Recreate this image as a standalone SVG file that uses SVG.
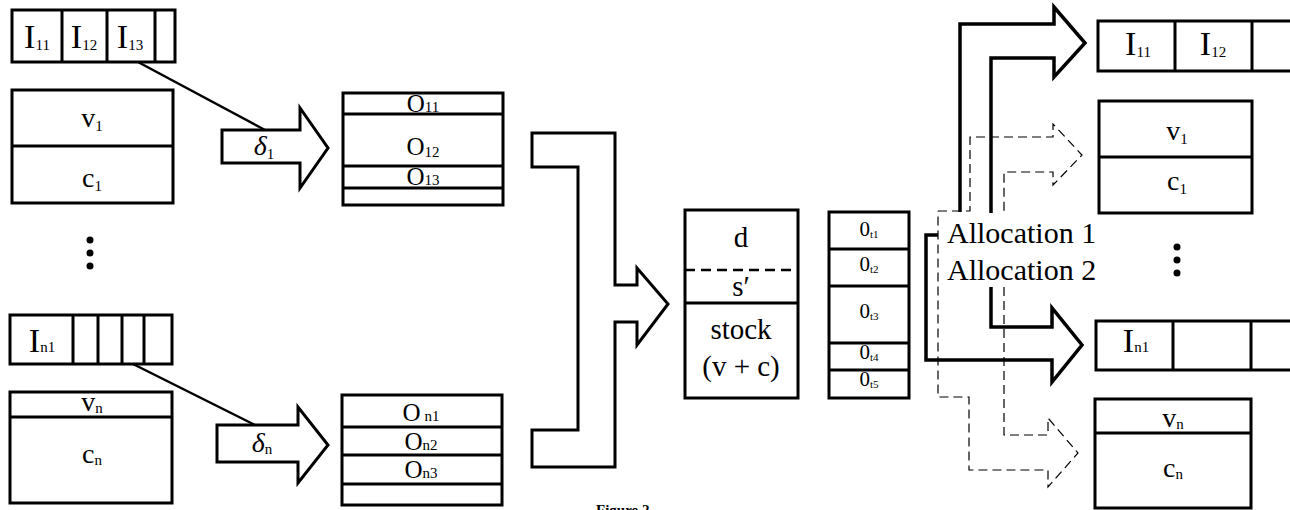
<svg xmlns="http://www.w3.org/2000/svg" width="1290" height="510" viewBox="0 0 1290 510">
<style>
.b{fill:#fff;stroke:#000;stroke-width:3}
.l{fill:none;stroke:#000;stroke-width:3}
.ln{fill:none;stroke:#000;stroke-width:2.5}
.ar{fill:#fff;stroke:#000;stroke-width:3;stroke-linejoin:miter}
.th{fill:none;stroke:#000;stroke-width:3.5;stroke-linejoin:miter}
.da{fill:none;stroke:#000;stroke-width:1.2;stroke-dasharray:9,5}
text{font-family:"Liberation Serif","Times New Roman",serif;fill:#000}
.big{font-size:34px}
.mid{font-size:28px}
.ctr{font-size:29px}
.o{font-size:25px}
.s{font-size:15px}
.ot{font-size:21px}
.al{font-size:30px}
</style>
<rect width="1290" height="510" fill="#fff"/>
<g id="connectors">
<line class="ln" x1="138" y1="62" x2="265" y2="130"/>
<line class="ln" x1="133" y1="364" x2="255" y2="425"/>
<path class="th" d="M960,212 V24 H1054 V7 L1085,43 L1054,77 V58 H991 V213"/>
<path class="th" d="M991,287 V327 H1052 V308 L1082,345 L1052,382 V360 H926 V235 H938"/>
<path class="da" d="M938,211 H970 V137 H1053 V124 L1082,155 L1053,185 V172 H1004 V213"/>
<path class="da" d="M1004,287 V435 H1048 V418 L1078,453 L1048,487 V470 H969 V397 H938 V211"/>
</g>
<g id="in-row-1">
<rect class="b" x="12" y="10" width="163" height="52"/>
<line class="l" x1="62" y1="10" x2="62" y2="62"/>
<line class="l" x1="107" y1="10" x2="107" y2="62"/>
<line class="l" x1="155" y1="10" x2="155" y2="62"/>
<text class="big" x="37" y="48" text-anchor="middle">I<tspan class="s" dy="2">11</tspan></text>
<text class="big" x="84" y="48" text-anchor="middle">I<tspan class="s" dy="2">12</tspan></text>
<text class="big" x="130" y="48" text-anchor="middle">I<tspan class="s" dy="2">13</tspan></text>
</g>
<g id="vc-1">
<rect class="b" x="12" y="90" width="161" height="113"/>
<line class="l" x1="12" y1="146" x2="173" y2="146"/>
<text class="mid" x="92" y="127" text-anchor="middle">v<tspan class="s" dy="4">1</tspan></text>
<text class="mid" x="92" y="187" text-anchor="middle">c<tspan class="s" dy="4">1</tspan></text>
</g>
<g id="dots-left">
<circle cx="90" cy="240" r="3.5"/><circle cx="90" cy="253" r="3.5"/><circle cx="90" cy="266" r="3.5"/>
</g>
<g id="in-row-n">
<rect class="b" x="10" y="315" width="162" height="49"/>
<line class="l" x1="73" y1="315" x2="73" y2="364"/>
<line class="l" x1="98" y1="315" x2="98" y2="364"/>
<line class="l" x1="122" y1="315" x2="122" y2="364"/>
<line class="l" x1="144" y1="315" x2="144" y2="364"/>
<text class="big" x="42" y="352" text-anchor="middle">I<tspan class="s">n1</tspan></text>
</g>
<g id="vc-n">
<rect class="b" x="10" y="392" width="162" height="111"/>
<line class="l" x1="10" y1="417" x2="172" y2="417"/>
<text class="mid" x="92" y="411" text-anchor="middle">v<tspan class="s" dy="2">n</tspan></text>
<text class="mid" x="92" y="463" text-anchor="middle">c<tspan class="s" dy="2">n</tspan></text>
</g>
<g id="arrow-d1">
<path class="ar" d="M222,130 H300 V108 L328,148 L300,188 V163 H222 Z"/>
<text class="mid" x="264" y="155" text-anchor="middle" font-style="italic">δ<tspan class="s" dy="4" font-style="normal">1</tspan></text>
</g>
<g id="arrow-dn">
<path class="ar" d="M217,425 H298 V407 L328,445 L298,483 V462 H217 Z"/>
<text class="mid" x="262" y="452" text-anchor="middle" font-style="italic">δ<tspan class="s" dy="2" font-style="normal">n</tspan></text>
</g>
<g id="out-1">
<rect class="b" x="343" y="93" width="160" height="112"/>
<line class="l" x1="343" y1="114" x2="503" y2="114"/>
<line class="l" x1="343" y1="166" x2="503" y2="166"/>
<line class="l" x1="343" y1="188" x2="503" y2="188"/>
<text class="o" x="423" y="112" text-anchor="middle">O<tspan class="s">11</tspan></text>
<text class="o" x="423" y="155" text-anchor="middle">O<tspan class="s" dy="2">12</tspan></text>
<text class="o" x="423" y="185" text-anchor="middle">O<tspan class="s">13</tspan></text>
</g>
<g id="out-n">
<rect class="b" x="342" y="395" width="160" height="110"/>
<line class="l" x1="342" y1="427" x2="502" y2="427"/>
<line class="l" x1="342" y1="455" x2="502" y2="455"/>
<line class="l" x1="342" y1="484" x2="502" y2="484"/>
<text class="o" x="421" y="421" text-anchor="middle">O<tspan class="s"> n1</tspan></text>
<text class="o" x="421" y="450" text-anchor="middle">O<tspan class="s">n2</tspan></text>
<text class="o" x="421" y="478" text-anchor="middle">O<tspan class="s">n3</tspan></text>
</g>
<g id="merge-arrow">
<path class="ar" d="M532,133 H615 V285 H637 V268 L668,304 L637,345 V322 H615 V467 H532 V430 H578 V167 H532 Z"/>
</g>
<g id="center">
<rect class="b" x="685" y="210" width="113" height="188"/>
<line x1="685" y1="270" x2="798" y2="270" stroke="#000" stroke-width="2.5" stroke-dasharray="10,6"/>
<line class="l" x1="685" y1="303" x2="798" y2="303"/>
<text class="ctr" x="741" y="247" text-anchor="middle">d</text>
<text class="ctr" x="741" y="296" text-anchor="middle">s′</text>
<text class="ctr" x="741" y="339" text-anchor="middle">stock</text>
<text class="ctr" x="741" y="376" text-anchor="middle">(v + c)</text>
</g>
<g id="ot">
<rect class="b" x="829" y="212" width="80" height="186"/>
<line class="l" x1="829" y1="249" x2="909" y2="249"/>
<line class="l" x1="829" y1="286" x2="909" y2="286"/>
<line class="l" x1="829" y1="343" x2="909" y2="343"/>
<line class="l" x1="829" y1="370" x2="909" y2="370"/>
<text class="ot" x="869" y="236" text-anchor="middle">0<tspan font-size="11" dy="2">t1</tspan></text>
<text class="ot" x="869" y="271" text-anchor="middle">0<tspan font-size="11" dy="2">t2</tspan></text>
<text class="ot" x="869" y="318" text-anchor="middle">0<tspan font-size="11" dy="2">t3</tspan></text>
<text class="ot" x="869" y="359" text-anchor="middle">0<tspan font-size="11" dy="2">t4</tspan></text>
<text class="ot" x="869" y="386" text-anchor="middle">0<tspan font-size="11" dy="2">t5</tspan></text>
</g>
<g id="alloc-labels">
<text class="al" x="947" y="243">Allocation 1</text>
<text class="al" x="947" y="280">Allocation 2</text>
</g>
<g id="r-in-row-1">
<path class="l" d="M1292,21 H1098 V71 H1292"/>
<line class="l" x1="1175" y1="21" x2="1175" y2="71"/>
<line class="l" x1="1252" y1="21" x2="1252" y2="71"/>
<text class="big" x="1138" y="55" text-anchor="middle">I<tspan class="s" dy="2">11</tspan></text>
<text class="big" x="1213" y="55" text-anchor="middle">I<tspan class="s" dy="2">12</tspan></text>
</g>
<g id="r-vc-1">
<rect class="b" x="1099" y="101" width="153" height="112"/>
<line class="l" x1="1099" y1="157" x2="1252" y2="157"/>
<text class="mid" x="1177" y="140" text-anchor="middle">v<tspan class="s" dy="4">1</tspan></text>
<text class="mid" x="1177" y="190" text-anchor="middle">c<tspan class="s" dy="4">1</tspan></text>
</g>
<g id="dots-right">
<circle cx="1177" cy="247" r="3.5"/><circle cx="1177" cy="260" r="3.5"/><circle cx="1177" cy="273" r="3.5"/>
</g>
<g id="r-in-row-n">
<path class="l" d="M1292,321 H1096 V370 H1292"/>
<line class="l" x1="1173" y1="321" x2="1173" y2="370"/>
<line class="l" x1="1251" y1="321" x2="1251" y2="370"/>
<text class="big" x="1136" y="352" text-anchor="middle">I<tspan class="s">n1</tspan></text>
</g>
<g id="r-vc-n">
<rect class="b" x="1095" y="399" width="156" height="109"/>
<line class="l" x1="1095" y1="433" x2="1251" y2="433"/>
<text class="mid" x="1173" y="427" text-anchor="middle">v<tspan class="s" dy="2">n</tspan></text>
<text class="mid" x="1173" y="477" text-anchor="middle">c<tspan class="s" dy="2">n</tspan></text>
</g>
<text x="596" y="515" font-size="15" font-weight="bold">Figure 2</text>
</svg>
